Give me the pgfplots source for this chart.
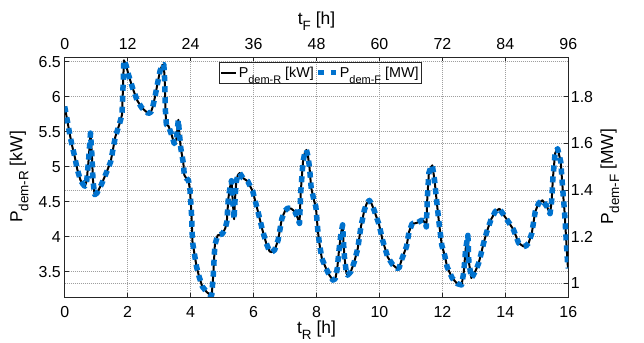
\documentclass[border=0pt]{standalone}
\usepackage{pgfplots}
\pgfplotsset{compat=1.18}
\usepackage{pgfplotstable}
\usepackage{fontspec}
\setmainfont{Liberation Sans}
\definecolor{mblue}{RGB}{0,114,206}
\definecolor{axc}{RGB}{38,38,38}
\newcommand{\labsub}[1]{\raisebox{-6bp}{\fontsize{13.5}{13.5}\selectfont #1}}
\newcommand{\legsub}[1]{\raisebox{-6bp}{\fontsize{11}{11}\selectfont #1}}

\pgfplotstableread{
t kW MW
0.00 5.86 1.758
0.07 5.69 1.707
0.15 5.49 1.647
0.23 5.31 1.593
0.32 5.14 1.542
0.40 4.96 1.488
0.50 4.81 1.443
0.58 4.75 1.425
0.64 4.72 1.416
0.70 4.80 1.440
0.76 5.10 1.530
0.82 5.48 1.644
0.86 5.20 1.560
0.90 4.80 1.440
0.95 4.60 1.380
1.02 4.62 1.386
1.16 4.74 1.422
1.32 4.91 1.473
1.46 5.07 1.521
1.61 5.43 1.629
1.74 5.61 1.683
1.82 5.74 1.722
1.85 6.10 1.830
1.88 6.52 1.956
1.95 6.45 1.935
2.03 6.31 1.893
2.16 6.12 1.836
2.30 5.95 1.785
2.45 5.84 1.752
2.58 5.79 1.737
2.66 5.76 1.728
2.74 5.78 1.734
2.80 5.86 1.758
2.87 6.00 1.800
2.95 6.19 1.857
3.03 6.37 1.911
3.10 6.45 1.935
3.15 6.46 1.938
3.18 6.20 1.860
3.20 5.80 1.740
3.23 5.60 1.680
3.30 5.58 1.674
3.40 5.45 1.635
3.48 5.33 1.599
3.55 5.40 1.620
3.61 5.67 1.701
3.65 5.45 1.635
3.69 5.26 1.578
3.77 5.05 1.515
3.80 4.88 1.464
3.87 4.83 1.449
3.93 4.81 1.443
3.98 4.67 1.401
4.03 4.31 1.293
4.06 3.93 1.179
4.12 3.76 1.128
4.19 3.57 1.071
4.27 3.43 1.029
4.37 3.29 0.987
4.51 3.21 0.963
4.62 3.17 0.951
4.67 3.16 0.948
4.72 3.45 1.035
4.77 3.88 1.164
4.86 4.02 1.206
5.01 4.04 1.212
5.10 4.12 1.236
5.15 4.21 1.263
5.20 4.55 1.365
5.27 4.75 1.425
5.30 4.80 1.440
5.34 4.50 1.350
5.38 4.25 1.275
5.42 4.60 1.380
5.45 4.78 1.434
5.50 4.88 1.464
5.56 4.91 1.473
5.66 4.84 1.452
5.82 4.79 1.437
5.98 4.64 1.392
6.14 4.36 1.308
6.28 4.10 1.230
6.40 3.91 1.173
6.51 3.79 1.137
6.58 3.78 1.134
6.67 3.81 1.143
6.78 3.95 1.185
6.90 4.26 1.278
7.00 4.37 1.311
7.09 4.41 1.323
7.20 4.40 1.320
7.31 4.36 1.308
7.40 4.27 1.281
7.46 4.19 1.257
7.50 4.64 1.392
7.57 5.07 1.521
7.63 5.20 1.560
7.68 5.24 1.572
7.73 5.15 1.545
7.78 4.98 1.494
7.83 4.70 1.410
7.93 4.50 1.350
7.98 4.43 1.329
8.04 4.10 1.230
8.09 3.91 1.173
8.17 3.69 1.107
8.30 3.55 1.065
8.41 3.45 1.035
8.52 3.38 1.014
8.60 3.40 1.020
8.66 3.55 1.065
8.72 3.83 1.149
8.78 4.05 1.215
8.83 4.17 1.251
8.86 3.90 1.170
8.89 3.70 1.110
8.95 3.48 1.044
8.99 3.45 1.035
9.09 3.50 1.050
9.20 3.64 1.092
9.31 3.83 1.149
9.41 4.14 1.242
9.52 4.38 1.314
9.60 4.48 1.344
9.68 4.52 1.356
9.75 4.47 1.341
9.83 4.38 1.314
9.99 4.17 1.251
10.10 3.95 1.185
10.26 3.71 1.113
10.42 3.60 1.080
10.55 3.55 1.065
10.62 3.55 1.065
10.72 3.69 1.107
10.86 3.86 1.158
10.94 4.07 1.221
11.04 4.19 1.257
11.12 4.19 1.257
11.20 4.20 1.260
11.36 4.24 1.272
11.45 4.20 1.260
11.49 4.14 1.242
11.52 4.55 1.365
11.57 4.91 1.473
11.63 4.99 1.497
11.68 5.02 1.506
11.75 4.81 1.443
11.82 4.50 1.350
11.89 4.21 1.263
11.98 3.88 1.164
12.07 3.74 1.122
12.15 3.57 1.071
12.31 3.41 1.023
12.47 3.33 0.999
12.61 3.31 0.993
12.68 3.50 1.050
12.74 3.83 1.149
12.81 4.02 1.206
12.84 3.64 1.092
12.92 3.41 1.023
12.98 3.45 1.035
13.06 3.52 1.056
13.15 3.62 1.086
13.22 3.74 1.122
13.31 3.91 1.173
13.41 4.07 1.221
13.54 4.24 1.272
13.68 4.36 1.308
13.81 4.40 1.320
13.95 4.31 1.293
14.10 4.21 1.263
14.26 4.10 1.230
14.42 3.91 1.173
14.58 3.86 1.158
14.66 3.87 1.161
14.74 3.91 1.173
14.84 4.05 1.215
14.95 4.36 1.308
15.06 4.48 1.344
15.18 4.52 1.356
15.32 4.43 1.329
15.42 4.33 1.299
15.47 4.50 1.350
15.51 4.83 1.449
15.58 5.19 1.557
15.66 5.26 1.578
15.76 5.07 1.521
15.82 4.69 1.407
15.88 4.36 1.308
15.93 3.98 1.194
15.98 3.60 1.080
16.00 3.55 1.065
}\demand

\begin{document}
\begin{tikzpicture}
\pgfplotsset{
  common/.style={
    scale only axis, width=503.6bp, height=240bp,
    at={(0,0)}, anchor=south west,
    xmin=0, xmax=16,
    tick align=inside, major tick length=4bp,
    axis line style={axc, line width=0.8bp},
    tick style={axc, line width=0.8bp},
    /pgf/number format/assume math mode=true,
    tick label style={font=\fontsize{16}{16}\selectfont, text=black},
    label style={font=\fontsize{17.5}{17.5}\selectfont, text=black, inner sep=0pt},
  }
}
\begin{axis}[common,
  ymin=3.139, ymax=6.567,
  xtick={0,2,...,16}, ytick={3.5,4,4.5,5,5.5,6,6.5},
  xtick pos=left, ytick pos=left,
  xmajorgrids, ymajorgrids,
  grid style={gray!75, line width=0.5bp, dash pattern=on 1bp off 1bp},
  extra y ticks={3.33333,4.66667,5.33333},
  extra y tick labels={},
  extra y tick style={major tick length=0pt, grid=major},
  xticklabel style={anchor=base, inner sep=0pt, yshift=-20.5bp},
  yticklabel style={anchor=east, inner sep=0pt, xshift=-3.7bp},
  xlabel={t\labsub{R} [h]},
  xlabel style={at={(axis description cs:0.5,-0.1525)}, anchor=base},
  ylabel={P\labsub{dem-R} [kW]},
  ylabel style={at={(axis description cs:-0.0838,0.5)}, anchor=base},
]
\addplot[black, line width=2bp, line join=round] table[x=t, y=kW] {\demand};
\end{axis}
\begin{axis}[common,
  ymin=0.9417, ymax=1.9701,
  xtick={0,2,...,16}, xticklabels={0,12,24,36,48,60,72,84,96},
  ytick={1,1.2,1.4,1.6,1.8},
  xtick pos=right, xticklabel pos=right,
  ytick pos=right, yticklabel pos=right,
  xticklabel style={anchor=base, inner sep=0pt, yshift=7.3bp},
  yticklabel style={anchor=west, inner sep=0pt, xshift=2.4bp},
  xlabel={t\labsub{F} [h]},
  xlabel style={at={(axis description cs:0.5,1.1363)}, anchor=base},
  ylabel={P\labsub{dem-F} [MW]},
  ylabel style={at={(axis description cs:1.0888,0.5)}, anchor=base},
  legend columns=2,
  legend style={at={(0.3064,0.9792)}, anchor=north west, fill=none,
    draw=axc, line width=0.6bp, inner xsep=1bp, inner ysep=1bp,
    font=\fontsize{14.4}{14.4}\selectfont, /tikz/column sep=0pt,
    nodes={inner xsep=1.5bp, inner ysep=3.5bp, anchor=west}},
]
\addlegendimage{legend image code/.code={\draw[black, line width=2bp] (0bp,0bp) -- (15bp,0bp);}}
\addlegendentry{P\legsub{dem-R} [kW]}
\addplot[mblue, line width=5.5bp, dash pattern=on 6bp off 5bp, line join=round,
  legend image code/.code={\draw[mblue, line width=5.5bp, dash pattern=on 5.5bp off 7bp] (0bp,0bp) -- (17.5bp,0bp);}]
  table[x=t, y=MW] {\demand};
\addlegendentry{P\legsub{dem-F} [MW]}
\end{axis}
\pgfresetboundingbox
\path[use as bounding box] (-64.7bp,-46bp) rectangle (579.3bp,297bp);
\end{tikzpicture}
\end{document}
